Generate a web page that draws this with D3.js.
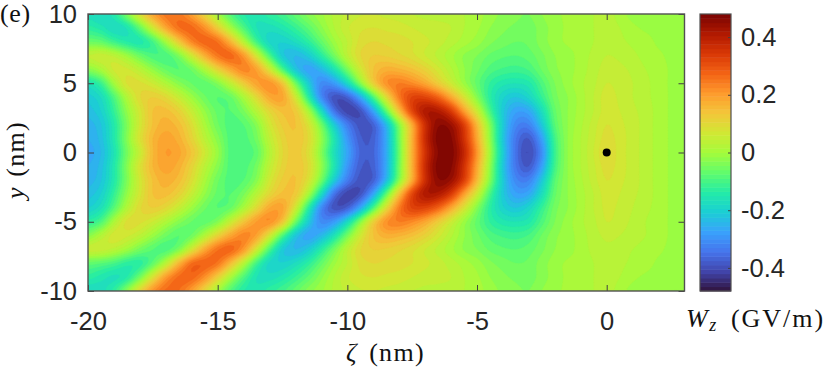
<!DOCTYPE html>
<html><head><meta charset="utf-8">
<style>html,body{margin:0;padding:0;background:#fff}svg{display:block}
.tick text{font-family:"Liberation Sans",Arial,sans-serif;font-size:25.5px;fill:#262626}
.math{font-family:"Liberation Serif",serif;font-size:26px;fill:#111;letter-spacing:0.6px}
</style>
<script src="https://cdn.jsdelivr.net/npm/d3@7"></script>
</head><body><svg id="c" width="830" height="370"></svg>
<script>
const zetaGrid=d3.range(-20,3.25,0.5);
const yGrid=[10,9,8,7,6,5,4,3,2,1,0,-1,-2,-3,-4,-5,-6,-7,-8,-9,-10];
const wzRows=[
[-.17,-.18,-.145,-.044,.08,.19,.25,.25,.198,.106,.002,-.085,-.14,-.15,-.13,-.105,-.07,-.03,-.004,.025,.045,.058,.06,.055,.05,.04,.035,.035,.03,.02,.01,-.01,-.025,-.035,-.04,-.02,-.005,.004,.01,.02,.03,.01,-.008,-.012,-.016,-.02,-.02],
[-.13,-.15,-.178,-.156,-.067,.059,.18,.256,.265,.215,.118,.006,-.09,-.16,-.17,-.152,-.118,-.075,-.025,.02,.056,.075,.08,.075,.07,.06,.05,.045,.04,.02,.004,-.02,-.035,-.045,-.05,-.03,-.01,.004,.01,.02,.03,.02,.005,-.004,-.008,-.012,-.012],
[-.06,-.07,-.11,-.14,-.149,-.10,.003,.125,.228,.27,.255,.16,.026,-.104,-.186,-.198,-.175,-.13,-.068,-.006,.04,.087,.10,.095,.09,.08,.065,.05,.03,.01,-.01,-.035,-.05,-.06,-.055,-.03,-.01,.004,.01,.02,.03,.025,.015,.008,-.004,-.008,-.012],
[.04,.05,.033,-.009,-.06,-.094,-.094,-.039,.063,.17,.249,.268,.201,.061,-.092,-.209,-.24,-.209,-.136,-.051,.034,.098,.12,.116,.104,.086,.06,.034,.006,-.022,-.04,-.064,-.076,-.08,-.07,-.045,-.02,-.01,.01,.025,.04,.035,.025,.012,.004,-.006,-.012],
[-.03,.007,.063,.064,.029,-.02,-.062,-.08,-.055,.016,.106,.181,.23,.19,.068,-.089,-.216,-.27,-.24,-.16,-.05,.06,.139,.17,.163,.143,.111,.069,.024,-.018,-.054,-.088,-.104,-.11,-.097,-.058,-.025,-.01,.01,.03,.05,.045,.035,.02,.01,-.004,-.012],
[-.16,-.112,-.001,.081,.085,.058,.015,-.03,-.061,-.07,-.034,.04,.122,.19,.21,.13,-.055,-.208,-.307,-.283,-.183,-.035,.113,.213,.24,.223,.184,.124,.06,-.008,-.068,-.122,-.152,-.16,-.147,-.091,-.04,-.01,.015,.035,.06,.05,.04,.025,.01,-.004,-.012],
[-.21,-.177,-.088,.018,.097,.119,.097,.049,-.008,-.056,-.08,-.061,.01,.098,.18,.185,.06,-.132,-.309,-.39,-.37,-.261,-.093,.089,.242,.323,.322,.272,.181,.077,-.033,-.132,-.195,-.22,-.19,-.12,-.05,-.02,.01,.04,.07,.055,.04,.025,.012,-.004,-.012],
[-.23,-.20,-.12,-.019,.07,.14,.147,.112,.049,-.018,-.067,-.08,-.044,.027,.102,.145,.128,.005,-.175,-.345,-.41,-.39,-.268,-.073,.14,.318,.41,.407,.336,.196,.056,-.098,-.213,-.274,-.263,-.173,-.067,-.02,.01,.04,.07,.06,.045,.03,.012,-.004,-.012],
[-.25,-.222,-.145,-.04,.065,.142,.17,.148,.087,.009,-.056,-.09,-.08,-.03,.064,.124,.14,.077,-.055,-.212,-.33,-.39,-.37,-.236,-.03,.18,.364,.455,.436,.33,.152,-.038,-.21,-.312,-.32,-.218,-.082,-.02,.015,.05,.08,.065,.05,.03,.012,-.004,-.012],
[-.26,-.23,-.148,-.035,.078,.16,.19,.169,.109,.034,-.031,-.09,-.09,-.05,.038,.106,.135,.096,-.02,-.158,-.29,-.375,-.37,-.26,-.053,.17,.368,.47,.463,.356,.183,-.02,-.217,-.34,-.38,-.276,-.106,-.02,.02,.055,.09,.07,.05,.03,.012,-.004,-.012],
[-.27,-.24,-.16,-.05,.05,.157,.20,.186,.136,.062,-.013,-.09,-.095,-.07,.02,.098,.13,.085,-.035,-.17,-.27,-.365,-.365,-.26,-.06,.17,.354,.46,.47,.379,.207,-.003,-.206,-.346,-.40,-.305,-.115,-.02,.02,.06,.10,.07,.05,.03,.012,-.004,-.012],
[-.26,-.23,-.148,-.035,.078,.16,.19,.169,.109,.034,-.031,-.09,-.09,-.05,.038,.106,.135,.096,-.02,-.158,-.29,-.375,-.37,-.26,-.053,.17,.368,.47,.463,.356,.183,-.02,-.217,-.34,-.38,-.276,-.106,-.02,.02,.055,.09,.07,.05,.03,.012,-.004,-.012],
[-.25,-.222,-.145,-.04,.065,.142,.17,.148,.087,.009,-.056,-.09,-.08,-.03,.064,.124,.14,.077,-.055,-.212,-.33,-.39,-.37,-.236,-.03,.18,.364,.455,.436,.33,.152,-.038,-.21,-.312,-.32,-.218,-.082,-.02,.015,.05,.08,.065,.05,.03,.012,-.004,-.012],
[-.23,-.20,-.12,-.019,.07,.14,.147,.112,.049,-.018,-.067,-.08,-.044,.027,.102,.145,.128,.005,-.175,-.345,-.41,-.39,-.268,-.073,.14,.318,.41,.407,.336,.196,.056,-.098,-.213,-.274,-.263,-.173,-.067,-.02,.01,.04,.07,.06,.045,.03,.012,-.004,-.012],
[-.20,-.165,-.08,.02,.095,.119,.097,.049,-.008,-.056,-.08,-.061,.01,.098,.18,.185,.06,-.132,-.309,-.39,-.37,-.261,-.093,.089,.242,.323,.322,.272,.181,.077,-.033,-.132,-.195,-.22,-.19,-.12,-.05,-.02,.01,.04,.065,.055,.04,.025,.012,-.004,-.012],
[-.13,-.09,.01,.085,.085,.058,.015,-.03,-.061,-.07,-.034,.05,.135,.2,.215,.13,-.055,-.208,-.307,-.283,-.183,-.035,.113,.213,.24,.223,.184,.124,.06,-.008,-.068,-.122,-.152,-.16,-.147,-.091,-.04,-.01,.015,.035,.06,.05,.035,.02,.01,-.004,-.012],
[-.03,.02,.07,.064,.035,-.01,-.055,-.08,-.055,.02,.11,.185,.23,.19,.068,-.089,-.216,-.27,-.24,-.16,-.05,.06,.139,.17,.163,.143,.111,.069,.024,-.018,-.054,-.088,-.104,-.11,-.097,-.058,-.025,-.01,.01,.03,.045,.04,.03,.02,.01,-.004,-.012],
[.05,.05,.03,-.005,-.05,-.08,-.09,-.039,.07,.18,.255,.268,.201,.061,-.092,-.209,-.24,-.209,-.136,-.051,.034,.098,.12,.116,.104,.086,.06,.034,.006,-.022,-.04,-.064,-.076,-.08,-.07,-.045,-.02,-.01,.01,.025,.035,.03,.02,.012,.004,-.006,-.012],
[-.07,-.08,-.10,-.13,-.13,-.07,.03,.16,.26,.275,.25,.15,.026,-.104,-.186,-.198,-.175,-.13,-.068,-.006,.04,.087,.10,.095,.09,.08,.065,.05,.03,.01,-.01,-.035,-.05,-.06,-.055,-.03,-.01,.004,.01,.02,.03,.025,.015,.008,-.004,-.008,-.012],
[-.13,-.15,-.165,-.14,-.05,.08,.20,.265,.27,.215,.118,.006,-.09,-.16,-.17,-.152,-.118,-.075,-.025,.02,.056,.075,.08,.075,.07,.06,.05,.045,.04,.02,.004,-.02,-.035,-.045,-.05,-.03,-.01,.004,.01,.02,.03,.02,.005,-.004,-.008,-.012,-.012],
[-.18,-.17,-.13,-.03,.10,.21,.265,.26,.20,.106,.002,-.085,-.14,-.15,-.13,-.105,-.07,-.03,-.004,.025,.045,.058,.06,.055,.05,.04,.035,.035,.03,.02,.01,-.01,-.025,-.035,-.04,-.02,-.005,.004,.01,.02,.03,.01,-.008,-.012,-.016,-.02,-.02]
];
const markerZeta=[0], markerY=[0];
const zetaTicks=[-20,-15,-10,-5,0];
const yTicks=[-10,-5,0,5,10];
const barTicks=[-0.4,-0.2,0,0.2,0.4];
const barLabels=["-0.4","-0.2","0","0.2","0.4"];
const turboStops=["#30123b","#4145ab","#4675ed","#39a2fc","#1bcfd4","#24eca6","#61fc6c","#a4fc3b","#d1e834","#f3c63a","#fe9b2d","#f36315","#d93806","#b11901","#7a0402"];

const svg=d3.select("#c");
const L=88,R=684.5,T=14,B=291, CL=700,CR=731;
const x=d3.scaleLinear().domain([-20,3]).range([L,R]);
const y=d3.scaleLinear().domain([-10,10]).range([B,T]);
const cRange=[-0.48,0.48];
const cbY=d3.scaleLinear().domain(cRange).range([B,T]);
const turbo=d3.piecewise(d3.interpolateRgb,turboStops);
const color=d3.scaleSequential(turbo).domain(cRange);

// smooth resampling of the read grid for drawing (Catmull-Rom)
const KX=5,KY=5;
function cr(a,b,c,d,t){return 0.5*((2*b)+(-a+c)*t+(2*a-5*b+4*c-d)*t*t+(-a+3*b-3*c+d)*t*t*t);}
const nc=zetaGrid.length,nr=yGrid.length;
const W=(nc-1)*KX+1,H=(nr-1)*KY+1;
const rowInterp=wzRows.map(r=>{const o=new Float64Array(W);for(let i=0;i<W;i++){const f=i/KX,j=Math.min(Math.floor(f),nc-2),t=f-j;
  o[i]=cr(r[Math.max(j-1,0)],r[j],r[j+1],r[Math.min(j+2,nc-1)],t);}return o;});
const fine=new Float64Array(W*H);
for(let q=0;q<H;q++){const f=q/KY,j=Math.min(Math.floor(f),nr-2),t=f-j;
  const a=rowInterp[Math.max(j-1,0)],b=rowInterp[j],c=rowInterp[j+1],d=rowInterp[Math.min(j+2,nr-1)];
  for(let i=0;i<W;i++)fine[q*W+i]=cr(a[i],b[i],c[i],d[i],t);}

const step=0.02;
const thresholds=d3.range(-0.48,0.48-1e-9,step);
const contours=d3.contours().size([W,H]).thresholds(thresholds).smooth(true)(Array.from(fine));
const gx=d3.scaleLinear().domain([0.5,W-0.5]).range([x(-20),x(3)]);
const gy=d3.scaleLinear().domain([0.5,H-0.5]).range([y(10),y(-10)]);
const path=d3.geoPath(d3.geoTransform({point(a,b){this.stream.point(gx(a),gy(b));}}));

const defs=svg.append("defs");
defs.append("clipPath").attr("id","plot").append("rect").attr("x",L).attr("y",T).attr("width",R-L).attr("height",B-T);
const g=svg.append("g").attr("clip-path","url(#plot)");
g.append("rect").attr("x",L).attr("y",T).attr("width",R-L).attr("height",B-T).attr("fill",color(-0.47));
g.selectAll("path").data(contours).join("path").attr("d",path)
 .attr("fill",d=>color(d.value+step/2)).attr("stroke",d=>color(d.value+step/2)).attr("stroke-width",0.3);

// marker
svg.append("g").selectAll("circle").data(markerZeta).join("circle")
 .attr("cx",d=>x(d)).attr("cy",(d,i)=>y(markerY[i])).attr("r",4).attr("fill","#000");

// colorbar
const barLevels=d3.range(-0.48,0.48-1e-9,0.96/64);
svg.append("g").selectAll("rect").data(barLevels).join("rect")
 .attr("x",CL).attr("width",CR-CL).attr("y",d=>cbY(d+0.96/64)).attr("height",d=>cbY(d)-cbY(d+0.96/64)+0.5)
 .attr("fill",d=>color(d+0.48/64));

// axes
const axisColor="#404040";
function style(a){a.selectAll(".domain").remove();a.selectAll(".tick line").attr("stroke",axisColor).attr("stroke-width",1);}
svg.append("g").attr("transform",`translate(0,${B})`).call(d3.axisBottom(x).tickValues(zetaTicks).tickSize(-6).tickPadding(21).tickFormat(d=>String(d))).call(style);
svg.append("g").attr("transform",`translate(0,${T})`).call(d3.axisTop(x).tickValues(zetaTicks).tickSize(-6).tickFormat("")).call(style);
svg.append("g").attr("transform",`translate(${L},0)`).call(d3.axisLeft(y).tickValues(yTicks).tickSize(-6).tickPadding(11).tickFormat(d=>String(d))).call(style);
svg.append("g").attr("transform",`translate(${R},0)`).call(d3.axisRight(y).tickValues(yTicks).tickSize(-6).tickFormat("")).call(style);
svg.append("g").attr("transform",`translate(${CR},0)`).call(d3.axisRight(cbY).tickValues(barTicks).tickSize(-3).tickPadding(10).tickFormat((d,i)=>barLabels[i])).call(style);
svg.selectAll(".tick text").attr("fill","#262626");
svg.append("rect").attr("x",L).attr("y",T).attr("width",R-L).attr("height",B-T).attr("fill","none").attr("stroke","#505050").attr("stroke-width",1.4);
svg.append("rect").attr("x",CL).attr("y",T).attr("width",CR-CL).attr("height",B-T).attr("fill","none").attr("stroke","#505050").attr("stroke-width",1.2);

// labels
svg.append("text").attr("class","math").attr("x",0).attr("y",22).text("(e)");
const zl=svg.append("text").attr("class","math").attr("x",346).attr("y",361);
zl.append("tspan").attr("font-style","italic").text("ζ");
zl.append("tspan").attr("dx",12).attr("letter-spacing",1.3).text("(nm)");
const yl=svg.append("text").attr("class","math").attr("transform","translate(24,160) rotate(-90)").attr("text-anchor","middle");
yl.append("tspan").attr("font-style","italic").text("y");
yl.append("tspan").attr("dx",10).attr("letter-spacing",1.3).text("(nm)");
const wl=svg.append("text").attr("class","math").attr("x",686).attr("y",327);
wl.append("tspan").attr("font-style","italic").text("W");
wl.append("tspan").attr("font-style","italic").attr("font-size",18).attr("dy",4).attr("dx",1).text("z");
wl.append("tspan").attr("dy",-4).attr("dx",14).attr("letter-spacing",2).text("(GV/m)");
</script></body></html>
